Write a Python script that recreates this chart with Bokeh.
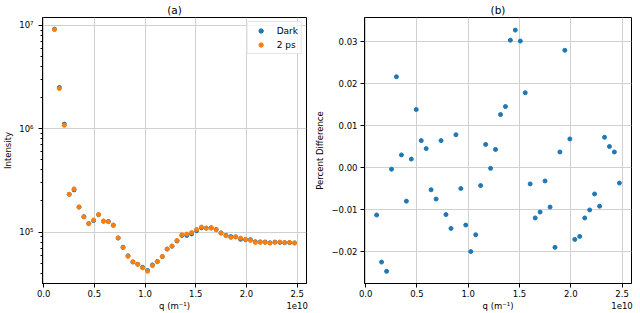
from bokeh.plotting import figure
from bokeh.layouts import row
from bokeh.models import Range1d, FixedTicker, CustomJSTickFormatter
from bokeh.embed import file_html
from bokeh.resources import INLINE

# ---- data (q in units of 1e10 m^-1) ----
q = [0.107, 0.155, 0.204, 0.252, 0.300, 0.349, 0.397, 0.445, 0.493, 0.542,
     0.590, 0.638, 0.687, 0.735, 0.783, 0.832, 0.880, 0.928, 0.976, 1.025,
     1.073, 1.121, 1.170, 1.218, 1.266, 1.315, 1.363, 1.411, 1.459, 1.508,
     1.556, 1.604, 1.653, 1.701, 1.749, 1.798, 1.846, 1.894, 1.942, 1.991,
     2.039, 2.087, 2.136, 2.184, 2.232, 2.281, 2.329, 2.377, 2.425, 2.474]

dark = [9.22e6, 2.51e6, 1.11e6, 2.32e5, 2.56e5, 1.745e5, 1.411e5, 1.208e5, 1.292e5, 1.471e5,
        1.274e5, 1.267e5, 1.169e5, 8.75e4, 7.14e4, 5.90e4, 5.13e4, 4.89e4, 4.56e4, 4.25e4,
        4.81e4, 5.19e4, 5.79e4, 6.85e4, 7.30e4, 8.20e4, 9.28e4, 9.28e4, 9.59e4, 1.029e5,
        1.100e5, 1.094e5, 1.103e5, 1.061e5, 9.81e4, 9.30e4, 9.04e4, 8.98e4, 8.51e4, 8.43e4,
        8.44e4, 8.07e4, 8.04e4, 8.02e4, 7.88e4, 8.01e4, 7.95e4, 7.90e4, 7.91e4, 7.86e4]

ps2 = [9.12e6, 2.45e6, 1.08e6, 2.32e5, 2.62e5, 1.75e5, 1.40e5, 1.21e5, 1.31e5, 1.48e5,
       1.28e5, 1.26e5, 1.16e5, 8.81e4, 7.06e4, 5.82e4, 5.17e4, 4.87e4, 4.50e4, 4.17e4,
       4.73e4, 5.17e4, 5.82e4, 6.85e4, 7.33e4, 8.30e4, 9.42e4, 9.57e4, 9.91e4, 1.06e5,
       1.12e5, 1.09e5, 1.09e5, 1.05e5, 9.78e4, 9.21e4, 8.87e4, 9.01e4, 8.75e4, 8.49e4,
       8.30e4, 7.94e4, 7.94e4, 7.94e4, 7.83e4, 7.94e4, 8.01e4, 7.94e4, 7.94e4, 7.83e4]

pct_diff = [-0.0113, -0.0225, -0.0247, -0.0004, 0.0216, 0.0030, -0.0080, 0.0020, 0.0138, 0.0064,
            0.0045, -0.0053, -0.0075, 0.0064, -0.0112, -0.0145, 0.0078, -0.0050, -0.0137, -0.0200,
            -0.0160, -0.0043, 0.0055, -0.0002, 0.0043, 0.0126, 0.0145, 0.0303, 0.0327, 0.0301,
            0.0178, -0.0039, -0.0120, -0.0106, -0.0032, -0.0094, -0.0190, 0.0037, 0.0279, 0.0068,
            -0.0171, -0.0164, -0.0120, -0.0101, -0.0063, -0.0092, 0.0072, 0.0050, 0.0037, -0.0037]

x_ticks = [0.0, 0.5, 1.0, 1.5, 2.0, 2.5]
x_offset_text = "1e10"
logy_ticks = [1e5, 1e6, 1e7]
diff_ticks = [-0.02, -0.01, 0.0, 0.01, 0.02, 0.03]

FONT = "DejaVu Sans"
BLUE = "#1f77b4"
ORANGE = "#ff7f0e"
TICK_FS = "8.5px"


def style(p, title):
    p.title.text = title
    p.title.align = "center"
    p.title.vertical_align = "middle"
    p.title.text_font = FONT
    p.title.text_font_size = "10.5px"
    p.title.text_font_style = "normal"
    p.title.text_color = "black"
    p.title.standoff = 2
    p.outline_line_color = "black"
    p.outline_line_width = 1
    p.outline_line_alpha = 1
    for g in (p.xgrid[0], p.ygrid[0]):
        g.grid_line_color = "#d0d0d0"
        g.grid_line_width = 1
    for ax in (p.xaxis[0], p.yaxis[0]):
        ax.major_label_text_font = FONT
        ax.major_label_text_font_size = TICK_FS
        ax.major_label_text_color = "black"
        ax.axis_label_text_font = FONT
        ax.axis_label_text_font_size = TICK_FS
        ax.axis_label_text_font_style = "normal"
        ax.axis_label_text_color = "black"
        ax.major_tick_out = 4
        ax.major_tick_in = 0
        ax.major_tick_line_color = "black"
        ax.axis_line_color = "black"
        ax.major_label_standoff = 3
        ax.axis_label_standoff = 3
        ax.minor_tick_line_color = None
    xa = p.xaxis[0]
    xa.ticker = FixedTicker(ticks=x_ticks)
    # last tick label carries the scale factor on a second line (like matplotlib's offset text)
    xa.formatter = CustomJSTickFormatter(args=dict(last=x_ticks[-1], off=x_offset_text), code="""
if (Math.abs(tick - last) < 1e-9) return tick.toFixed(1) + '\\n' + off;
return tick.toFixed(1);
""")
    xa.major_label_standoff = 1
    xa.axis_label = "q (m\u207b\u00b9)"
    xa.axis_label_standoff = -13


x_rng = (-0.0113, 2.592)

p1 = figure(width=312, height=313, y_axis_type="log",
            x_range=Range1d(*x_rng), y_range=Range1d(3.18e4, 1.194e7),
            output_backend="svg", toolbar_location=None,
            min_border_left=39, min_border_right=6, min_border_top=17, min_border_bottom=30)
style(p1, "(a)")
p1.yaxis[0].axis_label = "Intensity"
p1.yaxis[0].ticker = FixedTicker(ticks=logy_ticks,
                                 minor_ticks=[m * 10.0 ** e for e in (4, 5, 6, 7) for m in range(2, 10)])
p1.yaxis[0].formatter = CustomJSTickFormatter(code="""
const e = Math.round(Math.log10(tick));
const sup = {'0':'\u2070','1':'\u00b9','2':'\u00b2','3':'\u00b3','4':'\u2074','5':'\u2075','6':'\u2076','7':'\u2077','8':'\u2078','9':'\u2079','-':'\u207b'};
return '10' + String(e).split('').map(c => sup[c]).join('');
""")
p1.yaxis[0].minor_tick_line_color = "black"
p1.yaxis[0].minor_tick_out = 2
p1.yaxis[0].minor_tick_in = 0
p1.yaxis[0].major_label_standoff = 5

p1.scatter(q, dark, size=4, color=BLUE, legend_label="Dark")
p1.scatter(q, ps2, size=4, color=ORANGE, legend_label="2 ps")
lg = p1.legend[0]
lg.location = "top_right"
lg.margin = 4
lg.padding = 3
lg.spacing = 3
lg.glyph_width = 20
lg.glyph_height = 11
lg.label_height = 11
lg.label_standoff = 6
lg.label_text_font = FONT
lg.label_text_font_size = "9px"
lg.label_text_color = "black"
lg.border_line_color = "#cccccc"
lg.border_line_width = 1
lg.background_fill_alpha = 0.8

p2 = figure(width=328, height=313,
            x_range=Range1d(*x_rng), y_range=Range1d(-0.0276, 0.0357),
            output_backend="svg", toolbar_location=None,
            min_border_left=51, min_border_right=9, min_border_top=17, min_border_bottom=30)
style(p2, "(b)")
p2.yaxis[0].axis_label = "Percent Difference"
p2.yaxis[0].ticker = FixedTicker(ticks=diff_ticks)
p2.yaxis[0].formatter = CustomJSTickFormatter(code="""
const v = Math.abs(tick) < 1e-9 ? 0 : tick;
return v.toFixed(2).replace('-', '\u2212');
""")
p2.scatter(q, pct_diff, size=4, color=BLUE)

layout = row(p1, p2)

with open("out.html", "w") as f:
    f.write(file_html(layout, INLINE))
